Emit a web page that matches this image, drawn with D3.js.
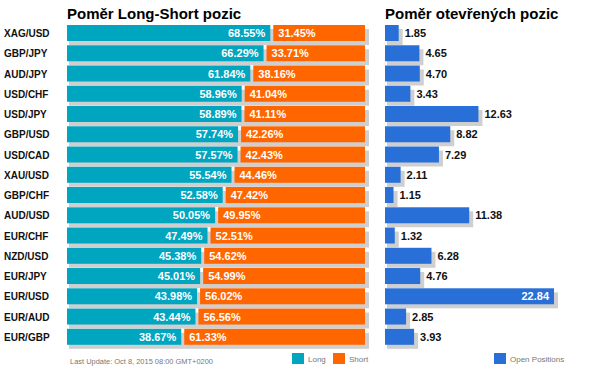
<!DOCTYPE html>
<html>
<head>
<meta charset="utf-8">
<script src="https://cdn.jsdelivr.net/npm/d3@7"></script>
<style>
    body { margin: 0; background: #fff; }
    svg text { font-family: Arial, "Liberation Sans", sans-serif; }
</style>
</head>
<body>
<svg id="chart" width="591" height="376"></svg>
<script>
    let pairs = ["XAG/USD", "GBP/JPY", "AUD/JPY", "USD/CHF", "USD/JPY", "GBP/USD", "USD/CAD", "XAU/USD",
        "GBP/CHF", "AUD/USD", "EUR/CHF", "NZD/USD", "EUR/JPY", "EUR/USD", "EUR/AUD", "EUR/GBP"]
    let longPct = [68.55, 66.29, 61.84, 58.96, 58.89, 57.74, 57.57, 55.54, 52.58, 50.05, 47.49, 45.38, 45.01, 43.98, 43.44, 38.67]
    let shortPct = [31.45, 33.71, 38.16, 41.04, 41.11, 42.26, 42.43, 44.46, 47.42, 49.95, 52.51, 54.62, 54.99, 56.02, 56.56, 61.33]
    let openPos = [1.85, 4.65, 4.70, 3.43, 12.63, 8.82, 7.29, 2.11, 1.15, 11.38, 1.32, 6.28, 4.76, 22.84, 2.85, 3.93]

    let colors = { long: "#00a5bf", short: "#ff6600", open: "#2870d8", shadow: "#cfcfcf" }

    let svg = d3.select("#chart")

    let rows = pairs.map((p, i) => ({ pair: p, long: longPct[i], short: shortPct[i], open: openPos[i] }))

    // row positions
    let yScale = d3.scaleBand()
        .domain(pairs)
        .range([25, 345])
        .paddingInner(0.2)
        .paddingOuter(0)
        .align(0)
    let barH = 16

    // left chart: long / short split
    let xPct = d3.scaleLinear().domain([0, 100]).range([67, 365])
    // right chart: open positions
    let xOpen = d3.scaleLinear().domain([0, 22.84]).range([385, 554])

    // titles
    svg.append("text").attr("x", 67).attr("y", 19)
        .style("font-size", "15px").style("font-weight", "bold").attr("fill", "#000")
        .text("Poměr Long-Short pozic")
    svg.append("text").attr("x", 385).attr("y", 19)
        .style("font-size", "15px").style("font-weight", "bold").attr("fill", "#000")
        .text("Poměr otevřených pozic")

    let row = svg.selectAll("g.row").data(rows).enter()
        .append("g").attr("class", "row")
        .attr("transform", d => "translate(0," + yScale(d.pair) + ")")

    // category labels
    row.append("text").attr("x", 4).attr("y", 12)
        .style("font-size", "10px").style("font-weight", "bold").attr("fill", "#111")
        .text(d => d.pair)

    // shadows
    row.append("rect")
        .attr("x", xPct(0) + 2).attr("y", 4)
        .attr("width", xPct(100) - xPct(0) + 2).attr("height", barH)
        .attr("fill", colors.shadow)
    row.append("rect")
        .attr("x", xOpen(0) + 2).attr("y", 4)
        .attr("width", d => xOpen(d.open) - xOpen(0) + 2).attr("height", barH)
        .attr("fill", colors.shadow)

    // long bars
    row.append("rect")
        .attr("x", xPct(0)).attr("y", 0)
        .attr("width", d => xPct(d.long) - xPct(0) - 1).attr("height", barH)
        .attr("fill", colors.long)
    // short bars
    row.append("rect")
        .attr("x", d => xPct(d.long) + 2).attr("y", 0)
        .attr("width", d => xPct(100) - xPct(d.long) - 2).attr("height", barH)
        .attr("fill", colors.short)

    row.append("text")
        .attr("x", d => xPct(d.long) - 6).attr("y", 12)
        .attr("text-anchor", "end")
        .style("font-size", "11px").style("font-weight", "bold").attr("fill", "#fff")
        .text(d => d.long.toFixed(2) + "%")
    row.append("text")
        .attr("x", d => xPct(d.long) + 7).attr("y", 12)
        .style("font-size", "11px").style("font-weight", "bold").attr("fill", "#fff")
        .text(d => d.short.toFixed(2) + "%")

    // open position bars
    row.append("rect")
        .attr("x", xOpen(0)).attr("y", 0)
        .attr("width", d => xOpen(d.open) - xOpen(0)).attr("height", barH)
        .attr("fill", colors.open)

    let maxOpen = d3.max(openPos)
    row.append("text")
        .attr("x", d => d.open == maxOpen ? xOpen(d.open) - 5 : xOpen(d.open) + 6)
        .attr("y", 12)
        .attr("text-anchor", d => d.open == maxOpen ? "end" : "start")
        .style("font-size", "11px").style("font-weight", "bold")
        .attr("fill", d => d.open == maxOpen ? "#fff" : "#111")
        .text(d => d.open.toFixed(2))

    // footer
    svg.append("text").attr("x", 70).attr("y", 364)
        .style("font-size", "8px").attr("fill", "#777")
        .attr("textLength", 143).attr("lengthAdjust", "spacingAndGlyphs")
        .text("Last Update: Oct 8, 2015 08:00 GMT+0200")

    let legend = [
        { label: "Long", color: colors.long, x: 292 },
        { label: "Short", color: colors.short, x: 333 },
        { label: "Open Positions", color: colors.open, x: 494 }
    ]
    let lg = svg.selectAll("g.legend").data(legend).enter()
        .append("g").attr("class", "legend")
        .attr("transform", d => "translate(" + d.x + ",353)")
    lg.append("rect").attr("width", 12).attr("height", 11).attr("fill", d => d.color)
    lg.append("text").attr("x", 16).attr("y", 9)
        .style("font-size", "8px").attr("fill", "#777")
        .text(d => d.label)
</script>
</body>
</html>
